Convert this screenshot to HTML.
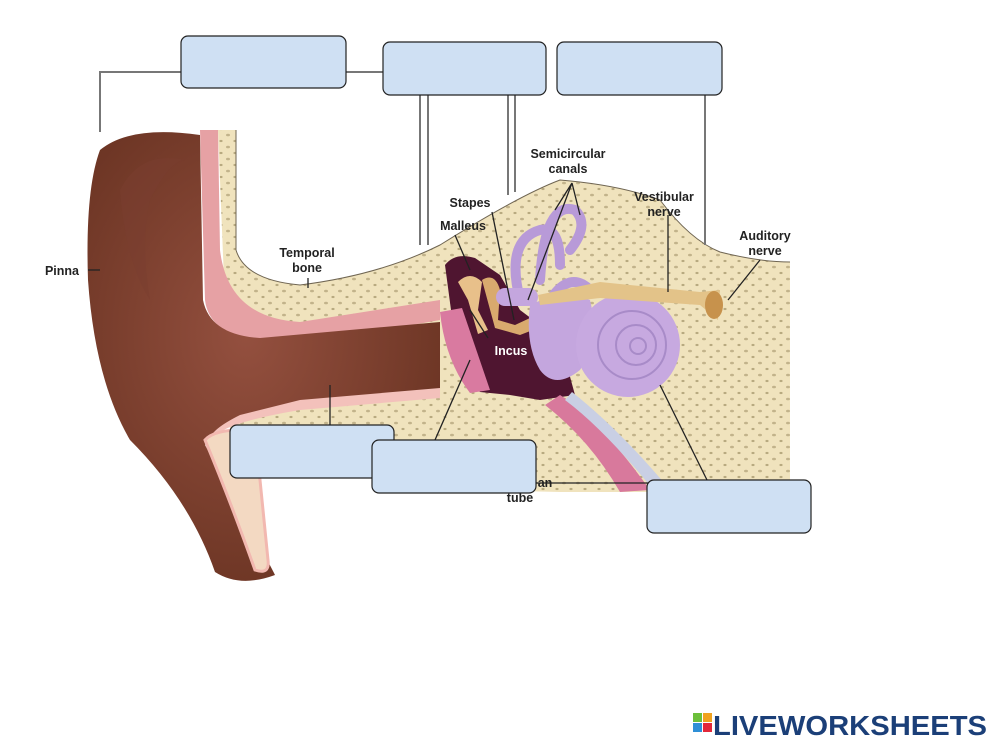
<!DOCTYPE html>
<html><head><meta charset="utf-8"><style>
html,body{margin:0;padding:0;background:#fff;}
svg{display:block}
text{font-family:"Liberation Sans",Arial,sans-serif;font-weight:bold;}
</style></head><body>
<svg width="1000" height="750" viewBox="0 0 1000 750" xmlns="http://www.w3.org/2000/svg">
<defs>
<pattern id="dots" width="14" height="12" patternUnits="userSpaceOnUse">
<rect width="14" height="12" fill="#f0e3bd"/>
<ellipse cx="4" cy="3" rx="2" ry="1.3" fill="#c2b38b"/>
<ellipse cx="11" cy="9" rx="1.6" ry="1.1" fill="#b8a97f"/>
</pattern>
<radialGradient id="earg" cx="0.45" cy="0.45" r="0.7">
<stop offset="0" stop-color="#94503f"/><stop offset="1" stop-color="#65301f"/>
</radialGradient>
</defs>
<!-- bone -->
<path d="M218,130 L236,130 L236,250 Q245,280 300,285 Q380,275 440,245 Q520,195 560,180 Q620,185 660,200 Q690,240 720,252 Q760,262 790,262 L790,492 L560,492 L480,490 L420,445 L290,440 L230,430 Z" fill="url(#dots)"/>
<path d="M236,130 L236,250 Q245,280 300,285 Q380,275 440,245 Q520,195 560,180 Q620,185 660,200 Q690,240 720,252 Q760,262 790,262" fill="none" stroke="#6f6552" stroke-width="1"/>
<!-- pink strip -->
<path d="M200,130 L218,130 L220,250 Q228,318 300,322 L440,300 L440,320 L300,345 Q210,345 205,300 Z" fill="#e6a1a4"/>
<!-- pinna -->
<path d="M100,150 Q130,125 200,135 L203,300 Q210,335 260,338 L440,322 L440,392 L300,405 Q240,415 215,432 L205,445 Q265,555 275,575 Q240,588 215,572 Q190,500 130,440 Q95,380 88,280 Q85,190 100,150 Z" fill="url(#earg)"/>
<path d="M120,190 Q140,150 185,160 Q170,160 150,200 Q140,240 150,300 Q125,260 120,190 Z" fill="#7a3d2f" opacity="0.5"/>
<!-- lower canal pink border & lobe cartilage -->
<path d="M300,400 L440,388 L440,398 L300,410 Q240,420 220,432 L210,440 Q210,430 240,415 Z" fill="#f3c1bb"/>
<path d="M205,440 Q215,428 255,430 L268,560 Q270,575 255,570 Q230,500 205,440 Z" fill="#f3d9c2" stroke="#f2b8b0" stroke-width="3"/>
<!-- middle ear cavity -->
<path d="M445,265 Q455,252 475,258 L500,275 L520,310 L560,340 L575,395 L540,400 L510,395 L480,392 Q465,380 455,340 Z" fill="#4f1530"/>
<!-- eardrum -->
<path d="M440,312 L462,308 L490,390 L470,393 Q445,360 440,312 Z" fill="#d97aa0"/>
<!-- ossicles -->
<path d="M458,282 Q470,270 482,282 L478,310 L488,330 L478,334 L468,300 Z" fill="#e8c08a"/>
<path d="M482,280 Q495,272 500,290 L498,320 L515,325 L530,318 L538,328 L520,335 L495,328 Z" fill="#d9aa6e"/>
<!-- eustachian tube -->
<path d="M560,395 Q600,420 650,490 L620,492 Q590,440 545,405 Z" fill="#d8799c"/>
<path d="M572,392 Q620,430 670,490 L655,492 Q605,430 565,400 Z" fill="#c9cfe4"/>
<!-- semicircular canals -->
<g fill="none" stroke="#b89ad8" stroke-width="10" stroke-linecap="round">
<path d="M520,300 Q505,240 540,230 Q560,225 560,265"/>
<path d="M540,280 Q545,200 575,210 Q590,225 570,250"/>
<path d="M550,300 Q570,270 590,290"/>
</g>
<rect x="496" y="288" width="42" height="18" rx="9" fill="#c4a6de"/>
<!-- vestibule + cochlea -->
<path d="M530,305 Q560,290 590,300 Q600,340 580,370 Q555,390 540,370 Q525,345 530,305 Z" fill="#c4a6de"/>
<circle cx="628" cy="345" r="52" fill="#c7a9e0"/>
<circle cx="632" cy="345" r="34" fill="none" stroke="#a88bc8" stroke-width="2"/>
<circle cx="636" cy="345" r="20" fill="none" stroke="#a88bc8" stroke-width="2"/>
<circle cx="638" cy="346" r="8" fill="none" stroke="#a88bc8" stroke-width="2"/>
<!-- nerves -->
<path d="M538,295 L600,282 L700,292 L720,290 L718,320 L700,305 L600,298 L540,305 Z" fill="#e3c389"/>
<ellipse cx="714" cy="305" rx="9" ry="14" fill="#c7924c"/>
<!-- label lines -->
<g stroke="#777" stroke-width="2" fill="none">
<path d="M181,72 L100,72 L100,132"/>
<path d="M346,72 L383,72"/>
<path d="M420,95 L420,245"/><path d="M428,95 L428,245"/>
<path d="M508,95 L508,195"/><path d="M515,95 L515,192"/>
<path d="M705,95 L705,245"/>
</g>
<g stroke="#222" stroke-width="1.3" fill="none">
<path d="M330,425 L330,385"/>
<path d="M435,440 L470,360"/>
<path d="M707,480 L660,385"/>
<path d="M535,483 L650,483"/>
<path d="M88,270 L100,270"/>
<path d="M308,278 L308,288"/>
<path d="M572,183 L528,300 M572,183 L555,210 M572,183 L580,215"/>
<path d="M668,215 L668,292"/>
<path d="M760,260 L728,300"/>
<path d="M455,235 L470,270"/>
<path d="M492,212 L514,320"/>
<path d="M488,338 L470,310"/>
</g>
<!-- anatomy labels -->
<g font-size="12.5" fill="#222" text-anchor="middle">
<text x="62" y="275">Pinna</text>
<text x="307" y="257">Temporal</text><text x="307" y="272">bone</text>
<text x="470" y="207">Stapes</text>
<text x="463" y="230">Malleus</text>
<text x="568" y="158">Semicircular</text><text x="568" y="173">canals</text>
<text x="664" y="201">Vestibular</text><text x="664" y="216">nerve</text>
<text x="765" y="240">Auditory</text><text x="765" y="255">nerve</text>
<text x="511" y="355" fill="#fff">Incus</text>
<text x="545" y="487">an</text>
<text x="520" y="502">tube</text>
</g>
<!-- boxes -->
<g fill="#cfe0f3" stroke="#222" stroke-width="1.2">
<rect x="181" y="36" width="165" height="52" rx="7"/>
<rect x="383" y="42" width="163" height="53" rx="7"/>
<rect x="557" y="42" width="165" height="53" rx="7"/>
<rect x="230" y="425" width="164" height="53" rx="7"/>
<rect x="372" y="440" width="164" height="53" rx="7"/>
<rect x="647" y="480" width="164" height="53" rx="7"/>
</g>
<!-- logo -->
<rect x="693" y="713" width="9" height="9" fill="#6cbf3a"/>
<rect x="703" y="713" width="9" height="9" fill="#f0a21e"/>
<rect x="693" y="723" width="9" height="9" fill="#2f8fd6"/>
<rect x="703" y="723" width="9" height="9" fill="#e2283a"/>
<text x="713" y="735" font-size="28" fill="#1b3f78" style="font-weight:900" textLength="274" lengthAdjust="spacingAndGlyphs">LIVEWORKSHEETS</text>
</svg>
</body></html>
